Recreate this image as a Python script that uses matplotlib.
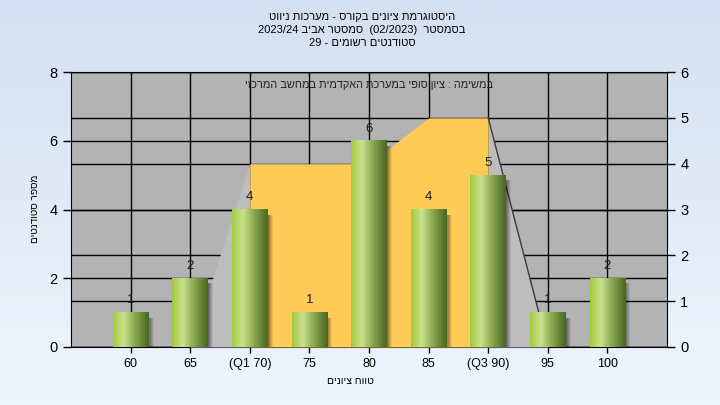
import numpy as np
import matplotlib
matplotlib.use('Agg')
import matplotlib.pyplot as plt
from matplotlib.colors import LinearSegmentedColormap
from matplotlib.patches import Rectangle

plt.rcParams['font.family'] = ['Liberation Sans', 'DejaVu Sans']

# data
categories = ['60', '65', '(Q1 70)', '75', '80', '85', '(Q3 90)', '95', '100']
counts = [1, 2, 4, 1, 6, 4, 5, 1, 2]
# box shape (right axis)
whisk_lo_cat = ['65', '(Q1 70)']
whisk_lo_val = [0, 4]
box_cat = ['(Q1 70)', '75', '80', '85', '(Q3 90)']
box_val = [4, 4, 4, 5, 5]
whisk_hi_cat = ['(Q3 90)', '95']
whisk_hi_val = [5, 0]

title_lines = ['היסטוגרמת ציונים בקורס - מערכות ניווט',
               'בסמסטר  (02/2023)  סמסטר אביב 2023/24',
               'סטודנטים רשומים - 29']
note = 'במשימה : ציון סופי במערכת האקדמית במחשב המרכזי'
xlabel = 'טווח ציונים'
ylabel = 'מספר סטודנטים'


def vis(s):
    # hebrew logical -> visual order for matplotlib
    out = []
    for w in s.split(' ')[::-1]:
        if any('\u0590' <= c <= '\u05ff' for c in w):
            out.append(w[::-1])
        else:
            out.append(w)
    return ' '.join(out)


def idx(cats):
    return [categories.index(c) for c in cats]


fig = plt.figure(figsize=(7.2, 4.05), dpi=100)

# background gradient
bg = fig.add_axes([0, 0, 1, 1], zorder=-10)
grad = np.linspace(0, 1, 256).reshape(-1, 1)
bgcmap = LinearSegmentedColormap.from_list('bg', ['#d3e0f1', '#eef6fd'])
bg.imshow(grad, aspect='auto', cmap=bgcmap, extent=(0, 1, 0, 1))
bg.axis('off')

rect = [71/720, 1-347/405, 596/720, 275/405]
ax = fig.add_axes(rect)
ax.set_facecolor('#b3b3b3')
ax.set_xlim(-1, 9)
ax.set_ylim(0, 8)
ax.set_xticks(range(len(categories)))
ax.set_xticklabels(categories, fontsize=9)
ax.set_yticks([0, 2, 4, 6, 8])
ax.tick_params(axis='y', labelsize=10.5, length=6, width=1)
ax.tick_params(axis='x', length=4, width=1, pad=4)
ax.grid(True, color='black', lw=1)
ax.set_axisbelow(True)
ax.spines['right'].set_visible(False)

ax2 = ax.twinx()
ax2.set_ylim(0, 6)
ax2.set_yticks(range(7))
ax2.tick_params(axis='y', labelsize=10.5, length=6, width=1)
ax2.grid(True, axis='y', color='black', lw=1)
ax2.set_axisbelow(True)
for s in ['left', 'top', 'bottom']:
    ax2.spines[s].set_visible(False)

light = '#bdbdbd'
ax2.fill_between(idx(whisk_lo_cat), whisk_lo_val, color=light, lw=0)
ax2.fill_between(idx(whisk_hi_cat), whisk_hi_val, color=light, lw=0)
ax2.plot(idx(whisk_hi_cat), whisk_hi_val, color='#3a3a3a', lw=1)
ax2.fill_between(idx(box_cat), box_val, color='#fecb57', lw=0)

# bars on top layer
ax3 = fig.add_axes(rect)
ax3.patch.set_visible(False)
ax3.axis('off')
barcmap = LinearSegmentedColormap.from_list(
    'bar', [(0, '#a2ca40'), (0.3, '#cae28e'), (0.6, '#8caa52'), (1, '#4a6620')])
hgrad = np.linspace(0, 1, 64).reshape(1, -1)
w = 0.3
for i, v in enumerate(counts):
    for k, a in enumerate([0.45, 0.35, 0.25, 0.15, 0.07]):
        ax3.add_patch(Rectangle((i + w + 0.017*k, 0), 0.017, v - 0.15,
                                color='black', alpha=a, lw=0))
    ax3.imshow(hgrad, aspect='auto', cmap=barcmap,
               extent=(i - w, i + w, 0, v), zorder=3)
    ax3.text(i, v + 0.18, str(v), ha='center', va='bottom', fontsize=9.5,
             color='#202020')
ax3.set_xlim(-1, 9)
ax3.set_ylim(0, 8)

ax3.text(4, 7.62, vis(note), ha='center', va='center', fontsize=7.8, color='#202020')

for k, line in enumerate(title_lines):
    fig.text(362/720, 1-(17 + 13*k)/405, vis(line), ha='center', va='center',
             fontsize=8, color='black')
fig.text(350/720, 1-381/405, vis(xlabel), ha='center', va='center', fontsize=7.5)
fig.text(35/720, 1-209/405, vis(ylabel), ha='center', va='center', fontsize=7.2,
         rotation=90)

fig.savefig('out.png', dpi=100)
